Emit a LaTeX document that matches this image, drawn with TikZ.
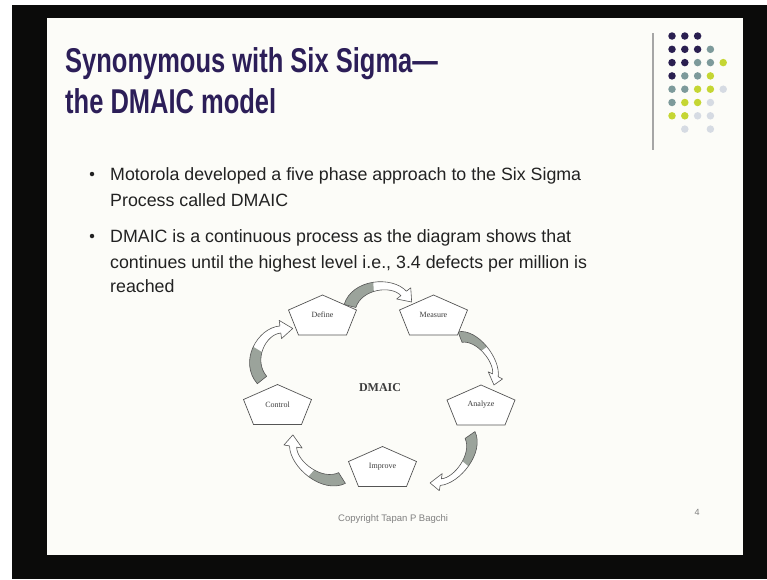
\documentclass[tikz,border=0pt]{standalone}
\usepackage{fontspec}
\setmainfont{Liberation Sans}
\newfontfamily\diagfont{Liberation Serif}
\definecolor{titlecol}{RGB}{44,30,88}
\definecolor{bodycol}{RGB}{34,34,34}
\definecolor{slidebg}{RGB}{252,252,248}
\definecolor{framecol}{RGB}{11,11,10}
\definecolor{dotdark}{RGB}{42,31,80}
\definecolor{dotteal}{RGB}{125,154,155}
\definecolor{dotlime}{RGB}{197,214,51}
\definecolor{dotlight}{RGB}{214,219,227}
\definecolor{arrowgrey}{RGB}{155,163,155}
\definecolor{linecol}{RGB}{85,85,85}
\definecolor{labelcol}{RGB}{60,60,60}
\newcommand\arrowoutline{(5.6,2) -- (-5.6,-2) .. controls (3.6,-28.3) and (42.4,-29.3) .. (55.6,-11.7) -- (60,-15) -- (60,0) -- (45.6,-4.2) -- (50,-7.5) .. controls (41,-19.5) and (12.2,-16.8) .. (5.6,2) -- cycle}
\newcommand\pentagon[1]{\draw[pentline, shift={(#1.center)}] (0,-20) -- (34,-5) -- (24,20) -- (-24,20) -- (-34,-5) -- cycle;}
\newcommand\tallbox[1]{\scalebox{1}[1.35]{#1}}
\tikzset{
  titletext/.style={anchor=base west, inner sep=0pt, text=titlecol, font=\fontsize{25.5}{30}\selectfont\bfseries},
  bodytext/.style={anchor=base west, inner sep=0pt, text=bodycol, font=\fontsize{17.8}{21}\selectfont},
  bulletdot/.style={circle, fill=bodycol, inner sep=0pt, minimum size=4.5pt},
  phase/.style={inner sep=0pt, text=labelcol, font=\diagfont\fontsize{8}{9}\selectfont},
  pentline/.style={draw=linecol, line width=0.7pt, fill=white, line join=miter},
  arrowline/.style={draw=linecol, line width=0.6pt, line join=round},
  dot/.style={circle, inner sep=0pt, minimum size=7.5pt},
  carrow/.pic={
    \fill[white] \arrowoutline;
    \begin{scope}
      \clip (-20,-45) rectangle (24,15);
      \fill[arrowgrey] \arrowoutline;
    \end{scope}
    \draw[arrowline] \arrowoutline;
  }
}
\begin{document}
\begin{tikzpicture}[x=1pt,y=-1pt]
\useasboundingbox (0,0) rectangle (767,579);
% frame
\fill[framecol] (0,0) rectangle (767,579);
\fill[white] (0,0) rectangle (767,5);
\fill[white] (0,0) rectangle (12,579);
\fill[slidebg] (47,18) rectangle (743,555);
% title
\node[titletext] (t1) at (65,72) {\tallbox{Synonymous with Six Sigma—}};
\node[titletext] (t2) at (65,113) {\tallbox{the DMAIC model}};
% decoration
\draw[gray!70, line width=1.4pt] (653,33) -- (653,150);
\foreach \c/\r/\col in {0/0/dotdark,1/0/dotdark,2/0/dotdark,
  0/1/dotdark,1/1/dotdark,2/1/dotdark,3/1/dotteal,
  0/2/dotdark,1/2/dotdark,2/2/dotteal,3/2/dotteal,4/2/dotlime,
  0/3/dotdark,1/3/dotteal,2/3/dotteal,3/3/dotlime,
  0/4/dotteal,1/4/dotteal,2/4/dotlime,3/4/dotlime,4/4/dotlight,
  0/5/dotteal,1/5/dotlime,2/5/dotlime,3/5/dotlight,
  0/6/dotlime,1/6/dotlime,2/6/dotlight,3/6/dotlight,
  1/7/dotlight,3/7/dotlight}
  \node[dot, fill=\col] at ({672+12.8*\c},{36+13.3*\r}) {};
% bullets
\node[bulletdot] (b1) at (92,174) {};
\node[bodytext] (l1) at (110,180.5) {Motorola developed a five phase approach to the Six Sigma};
\node[bodytext] (l2) at (110,206) {Process called DMAIC};
\node[bulletdot] (b2) at (92,236) {};
\node[bodytext] (l3) at (110,242.5) {DMAIC is a continuous process as the diagram shows that};
\node[bodytext] (l4) at (110,268.5) {continues until the highest level i.e., 3.4 defects per million is};
\node[bodytext] (l5) at (110,292.5) {reached};
% curved arrows
\pic[rotate=3.7, xscale=1.03, yscale=0.95] at (350,306) {carrow};
\pic[rotate=-54.7, xscale=0.98, yscale=0.7] at (460,337) {carrow};
\pic[rotate=-129.8, xscale=1.04, yscale=0.8] at (470,435) {carrow};
\pic[rotate=138.7, xscale=1.09, yscale=0.9] at (342,478) {carrow};
\pic[rotate=59.2, xscale=1.0, yscale=1.05] at (262,380) {carrow};
% phases
\node[phase] (def) at (322.5,315) {\phantom{Define}};
\node[phase] (mea) at (433.5,315) {\phantom{Measure}};
\node[phase] (ana) at (481,405) {\phantom{Analyze}};
\node[phase] (imp) at (382.5,466.5) {\phantom{Improve}};
\node[phase] (con) at (277.5,404.5) {\phantom{Control}};
\pentagon{def}\pentagon{mea}\pentagon{ana}\pentagon{imp}\pentagon{con}
\node[phase] at (def) {Define};
\node[phase] at (mea) {Measure};
\node[phase] at (ana) {Analyze};
\node[phase] at (imp) {Improve};
\node[phase] at (con) {Control};
\node[phase, font=\diagfont\fontsize{12}{13}\selectfont\bfseries] (dmaic) at (380,388) {DMAIC};
% footer
\node[anchor=base west, inner sep=0pt, text=gray, font=\fontsize{9.5}{11}\selectfont] (copy) at (338,521) {Copyright Tapan P Bagchi};
\node[anchor=base, inner sep=0pt, text=gray, font=\fontsize{9}{10}\selectfont] (pg) at (697,515) {4};
\end{tikzpicture}
\end{document}
